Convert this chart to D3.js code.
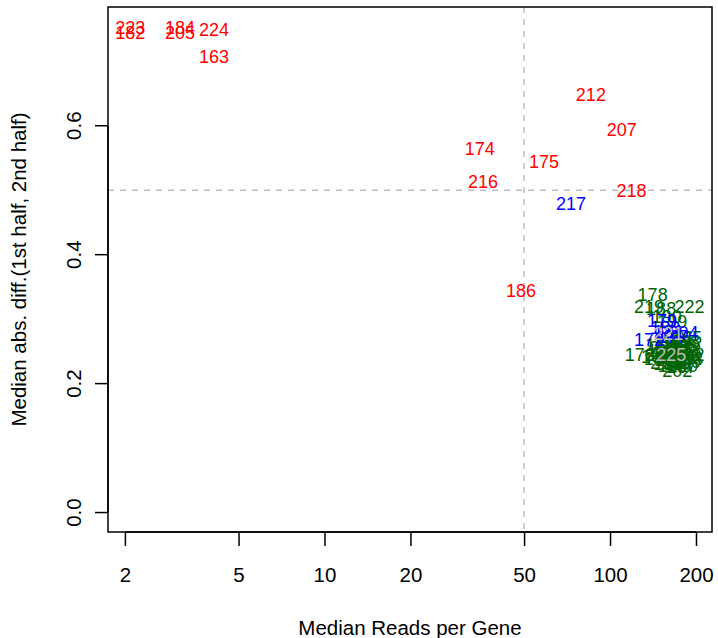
<!DOCTYPE html>
<html><head><meta charset="utf-8">
<script src="https://cdn.jsdelivr.net/npm/d3@7"></script>
<style>html,body{margin:0;padding:0;background:#fff;}svg{display:block;font-family:"Liberation Sans",Arial,Helvetica,sans-serif;}</style>
</head><body>
<svg id="c" width="718" height="638"></svg>
<script>
// Data: sample labels, median reads per gene (x), median abs diff (y), group colour
const labels = ["223","182","184","205","224","163","212","207","174","175","216","218","186","217",
  "178","219","188","222","190","199","176","202","209","192","195","201","170","183","185","187","189","191","193","194","196","197","198","200","203","206","208","210","211","213","214","215","220","164","165","166","167","168","169","171","173",
  "179","180","172","204","181","177",
  "221","225"];
const xValues = [2.09,2.09,3.12,3.12,4.10,4.10,85.7,110,35.0,58.7,35.9,119,48.8,73.0,
  141,137,151,190,158,165,127,172,185,190,180,175,160,152,170,162,148,178,185,166,158,174,183,155,168,180,150,176,162,188,156,170,180,150,186,145,178,164,172,186,160,
  152,156,137,181,160,165,
  160,164];
const yValues = [0.752,0.744,0.752,0.744,0.749,0.707,0.648,0.594,0.564,0.543,0.513,0.498,0.343,0.478,
  0.338,0.319,0.316,0.319,0.303,0.296,0.244,0.220,0.233,0.245,0.258,0.270,0.262,0.250,0.248,0.236,0.238,0.240,0.252,0.228,0.247,0.231,0.264,0.255,0.258,0.247,0.245,0.252,0.242,0.238,0.232,0.240,0.228,0.260,0.270,0.242,0.225,0.250,0.264,0.244,0.230,
  0.297,0.287,0.268,0.279,0.280,0.272,
  0.277,0.245];
const groups = ["red","red","red","red","red","red","red","red","red","red","red","red","red","blue",
  "green","green","green","green","green","green","green","green","green","green","green","green","green","green","green","green","green","green","green","green","green","green","green","green","green","green","green","green","green","green","green","green","green","green","green","green","green","green","green","green","green",
  "blue","blue","blue","blue","blue","blue",
  "grey","grey"];
const xTicks = [2,5,10,20,50,100,200];
const yTicks = [0.0,0.2,0.4,0.6];
const xCut = 50, yCut = 0.5;
const colorMap = {red:"#FF0000", blue:"#0000FF", green:"#006400", grey:"#BEBEBE"};
const FS = 18;      // point labels
const AFS = 20.5;   // axis text

const svg = d3.select("#c");
const L = 108, R = 712, T = 7, B = 532;
// R-style 4% extension of data range
const xlo = Math.log10(2.09), xhi = Math.log10(190);
const xd = (xhi - xlo) * 0.04;
const x = d3.scaleLog().domain([Math.pow(10, xlo - xd), Math.pow(10, xhi + xd)]).range([L, R]);
const ylo = 0, yhi = 0.754, yd = (yhi - ylo) * 0.04;
const y = d3.scaleLinear().domain([ylo - yd, yhi + yd]).range([B, T]);

// reference lines
svg.append("line").attr("x1", L).attr("x2", R).attr("y1", y(yCut)).attr("y2", y(yCut))
  .attr("stroke", "#BEBEBE").attr("stroke-width", 1.5).attr("stroke-dasharray", "6,6");
svg.append("line").attr("x1", x(xCut)).attr("x2", x(xCut)).attr("y1", T).attr("y2", B)
  .attr("stroke", "#BEBEBE").attr("stroke-width", 1.5).attr("stroke-dasharray", "6,6");

// labels as points
const data = labels.map((l, i) => ({l, x: xValues[i], y: yValues[i], g: groups[i]}));
svg.append("g").selectAll("text").data(data).join("text")
  .attr("x", d => x(d.x)).attr("y", d => y(d.y))
  .attr("text-anchor", "middle").attr("dominant-baseline", "central")
  .attr("font-size", FS).attr("fill", d => colorMap[d.g]).text(d => d.l);

// box
svg.append("rect").attr("x", L).attr("y", T).attr("width", R - L).attr("height", B - T)
  .attr("fill", "none").attr("stroke", "#000").attr("stroke-width", 1.5);

// x axis
const xa = svg.append("g").attr("transform", `translate(0,${B})`)
  .call(d3.axisBottom(x).tickValues(xTicks).tickFormat(d3.format("d")).tickSize(14).tickPadding(21));
xa.select(".domain").attr("d", `M${x(2)},0H${x(200)}`).attr("stroke-width", 1.5);
xa.selectAll(".tick line").attr("stroke-width", 1.5);
xa.selectAll("text").attr("font-size", AFS).attr("fill", "#000").attr("font-family", null);

// y axis
const ya = svg.append("g").attr("transform", `translate(${L},0)`)
  .call(d3.axisLeft(y).tickValues(yTicks).tickFormat(d3.format(".1f")).tickSize(13).tickPadding(0));
ya.select(".domain").attr("d", `M0,${y(0)}V${y(0.6)}`).attr("stroke-width", 1.5);
ya.selectAll(".tick").attr("transform", "translate(0,0)");
ya.selectAll(".tick line").attr("stroke-width", 1.5).attr("y1", d => y(d)).attr("y2", d => y(d)).attr("x2", -13);
ya.selectAll("text").attr("font-size", AFS).attr("fill", "#000").attr("font-family", null)
  .attr("text-anchor", "middle").attr("dy", null).attr("dominant-baseline", "central")
  .each(function(d){ d3.select(this).attr("x", -y(d)).attr("y", -35); })
  .attr("transform", "rotate(-90)");

// axis titles
svg.append("text").attr("x", (L + R) / 2).attr("y", 627).attr("text-anchor", "middle")
  .attr("dominant-baseline", "central").attr("font-size", AFS).text("Median Reads per Gene");
svg.append("text").attr("transform", `translate(18,${(T + B) / 2}) rotate(-90)`).attr("text-anchor", "middle")
  .attr("dominant-baseline", "central").attr("font-size", AFS).text("Median abs. diff.(1st half, 2nd half)");
</script>
</body></html>
